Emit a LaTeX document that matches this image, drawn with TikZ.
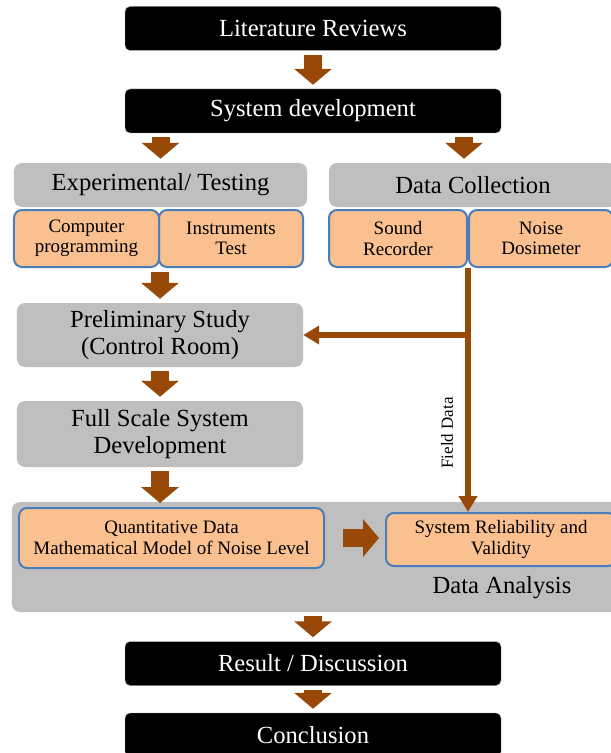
\documentclass[tikz,border=0pt]{standalone}
\usepackage{fontspec}
\setmainfont{Liberation Serif}
\usetikzlibrary{arrows.meta}

\definecolor{flowbrown}{HTML}{984807}
\definecolor{panelgrey}{HTML}{BFBFBF}
\definecolor{taskorange}{HTML}{FAC090}
\definecolor{taskblue}{HTML}{4A7EBB}

\tikzset{
    headfont/.style={font=\fontsize{21}{23.5}\selectfont},
    smallfont/.style={font=\fontsize{16.2}{17.5}\selectfont},
    darkbox/.style={draw=gray!70,fill=black,text=white,rounded corners=1.5mm,
        headfont,inner sep=0pt,minimum width=112.8mm,minimum height=13.2mm},
    greybox/.style={fill=panelgrey,rounded corners=2.4mm,headfont,align=center,
        inner sep=0pt},
    taskbox/.style={draw=taskblue,line width=0.6mm,fill=taskorange,rounded corners=2.4mm,
        smallfont,align=center,inner sep=0pt},
    bigflow/.style={draw=flowbrown,line width=5.4mm,
        -{Triangle[length=4.8mm,width=11.1mm]},shorten <=1.2mm,shorten >=1.2mm},
    fieldflow/.style={draw=flowbrown,line width=1.8mm,
        -{Triangle[length=4.8mm,width=5.4mm]}},
}

\begin{document}
\begin{tikzpicture}[x=0.3mm,y=-0.3mm]
\useasboundingbox (0,0) rectangle (610,753);

\begin{scope}[every node/.style={darkbox}]
    \node (lit) at (313,28.5) {Literature Reviews};
    \node (sys) at (313,111) {System development};
    \node (result) at (313,663.5) {Result / Discussion};
    \node (concl) at (313,735) {Conclusion};
\end{scope}

\begin{scope}[every node/.style={greybox}]
    \node[minimum width=87.9mm,minimum height=13.2mm] (exp) at (160.5,185) {Experimental/ Testing};
    \node[minimum width=86.4mm,minimum height=13.2mm] (dc) at (473,185) {Data Collection};
    \node[minimum width=85.8mm,minimum height=19.2mm] (prelim) at (160,335) {Preliminary Study\\(Control Room)};
    \node[minimum width=85.8mm,minimum height=19.8mm] (full) at (160,434) {Full Scale System\\Development};
    \node[minimum width=183.9mm,minimum height=33mm] (analysis) at (318.5,557) {};
\end{scope}
\node[headfont] (analysislabel) at (502,588) {Data Analysis};

\begin{scope}[every node/.style={taskbox}]
    \node[minimum width=43.5mm,minimum height=17.1mm] (comp) at (86.5,238.5) {Computer\\programming};
    \node[minimum width=43.2mm,minimum height=17.1mm] (instr) at (231,238.5) {Instruments\\Test};
    \node[minimum width=41.4mm,minimum height=17.1mm] (sound) at (398,238.5) {Sound\\Recorder};
    \node[minimum width=43.2mm,minimum height=17.1mm] (noise) at (541,238.5) {Noise\\Dosimeter};
    \node[minimum width=91.5mm,minimum height=18mm] (quant) at (171.5,538) {Quantitative Data\\Mathematical Model of Noise Level};
    \node[minimum width=69mm,minimum height=15.9mm] (sysrel) at (501,539.5) {System Reliability and\\Validity};
\end{scope}

% main flow
\draw[bigflow] (lit) -- (sys);
\draw[bigflow] (exp.north |- sys.south) -- (exp.north);
\draw[bigflow] ([xshift=-1.2mm]sound.east |- sys.south) -- ([xshift=-1.2mm]sound.east |- dc.north);
\draw[bigflow] (comp.south east) -- (comp.south east |- prelim.north);
\draw[bigflow] (prelim) -- (full);
\draw[bigflow] (full.south) -- (full.south |- quant.north);
\draw[bigflow,shorten <=5.4mm,shorten >=1.8mm] (quant.east) -- (quant.east -| sysrel.west);
\draw[bigflow] (analysis.south -| result.north) -- (result.north);
\draw[bigflow] (result) -- (concl);

% field data
\draw[fieldflow] (sound.south east) -- (sound.south east |- sysrel.north);
\draw[fieldflow] (sound.south east |- prelim.east) -- (prelim.east);
\node[font=\fontsize{14.5}{16}\selectfont,rotate=90] (fieldlabel) at (447,433) {Field Data};
\end{tikzpicture}
\end{document}
